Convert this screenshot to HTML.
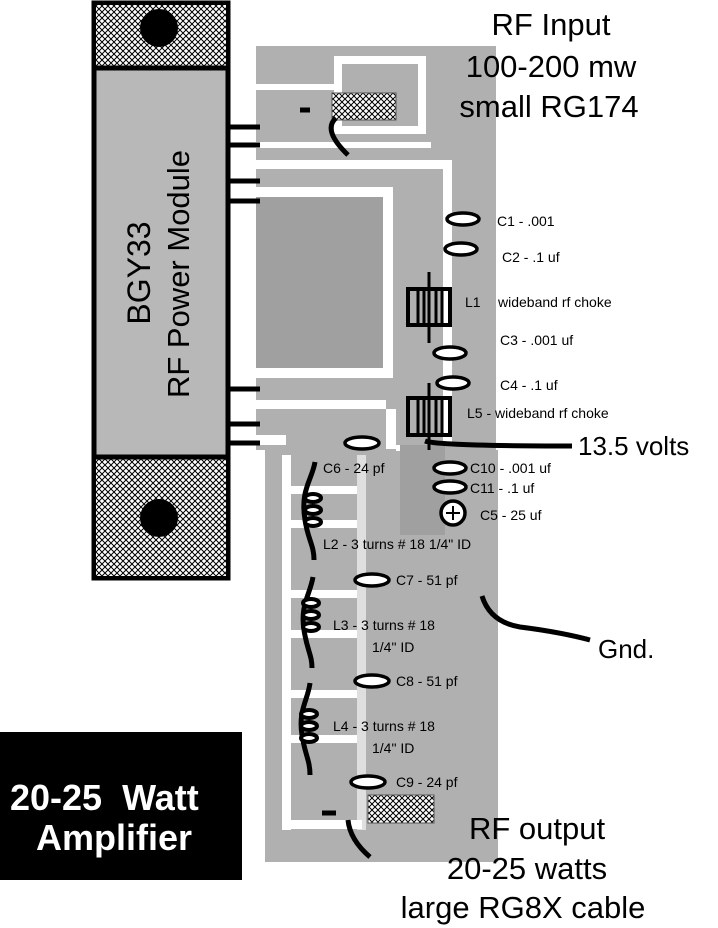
<!DOCTYPE html>
<html><head><style>
html,body{margin:0;padding:0;background:#fff;}
svg{display:block;}
text{font-family:"Liberation Sans",sans-serif;fill:#000;}
</style></head><body>
<svg width="718" height="928" viewBox="0 0 718 928" xmlns="http://www.w3.org/2000/svg">
<defs>
<pattern id="hx" width="6" height="6" patternUnits="userSpaceOnUse">
<rect width="6" height="6" fill="#fff"/>
<path d="M0 0L6 6M6 0L0 6" stroke="#000" stroke-width="1"/>
</pattern>
</defs>
<!-- board -->
<rect x="256" y="46" width="240" height="120" fill="#b0b0b0"/>
<rect x="256" y="166" width="240" height="290" fill="#b0b0b0"/>
<rect x="265" y="450" width="233" height="412" fill="#b0b0b0"/>
<!-- top board traces -->
<rect x="338" y="60" width="84" height="70" fill="none" stroke="#fff" stroke-width="8"/>
<rect x="256" y="84" width="80" height="6" fill="#fff"/>
<rect x="256" y="142" width="175" height="6" fill="#fff"/>
<rect x="332" y="93" width="64" height="27" fill="url(#hx)" stroke="#555" stroke-width="1"/>
<!-- main section -->
<rect x="256" y="160" width="196" height="9" fill="#fff"/>
<rect x="256" y="187" width="137" height="10" fill="#fff"/>
<rect x="256" y="197" width="127" height="171" fill="#a0a0a0"/>
<rect x="383" y="187" width="10" height="191" fill="#fff"/>
<rect x="256" y="368" width="137" height="10" fill="#fff"/>
<rect x="256" y="400" width="130" height="9" fill="#fff"/>
<rect x="443" y="166" width="9" height="280" fill="#fff"/>
<rect x="386" y="409" width="10" height="40" fill="#fff"/>
<rect x="256" y="435" width="30" height="10" fill="#fff"/>
<rect x="396" y="445" width="47" height="6" fill="#fff"/>
<!-- lower section -->
<rect x="256" y="450" width="9" height="412" fill="#fff"/>
<rect x="282" y="455" width="9" height="375" fill="#fff"/>
<rect x="282" y="820" width="80" height="9" fill="#fff"/>
<rect x="291" y="486" width="66" height="8" fill="#fff"/>
<rect x="291" y="520" width="66" height="8" fill="#fff"/>
<rect x="291" y="590" width="66" height="8" fill="#fff"/>
<rect x="291" y="630" width="66" height="8" fill="#fff"/>
<rect x="291" y="690" width="66" height="8" fill="#fff"/>
<rect x="291" y="735" width="66" height="8" fill="#fff"/>
<rect x="357" y="455" width="9" height="375" fill="#fff" opacity="0.6"/>
<rect x="400" y="445" width="45" height="90" fill="#a0a0a0"/>
<rect x="368" y="795" width="66" height="28" fill="url(#hx)" stroke="#555" stroke-width="1"/>
<!-- module -->
<rect x="94" y="3" width="134" height="575" fill="#b8b8b8" stroke="#000" stroke-width="5"/>
<rect x="96" y="5" width="130" height="62" fill="url(#hx)"/>
<rect x="96" y="458" width="130" height="118" fill="url(#hx)"/>
<line x1="94" y1="68" x2="228" y2="68" stroke="#000" stroke-width="5"/>
<line x1="94" y1="457" x2="228" y2="457" stroke="#000" stroke-width="5"/>
<circle cx="159" cy="28" r="19" fill="#000"/>
<circle cx="159" cy="518" r="19" fill="#000"/>
<g stroke="#000" stroke-width="5">
<line x1="226" y1="127" x2="260" y2="127"/><line x1="226" y1="145" x2="260" y2="145"/>
<line x1="226" y1="181" x2="260" y2="181"/><line x1="226" y1="201" x2="260" y2="201"/>
<line x1="226" y1="389" x2="260" y2="389"/><line x1="226" y1="424" x2="260" y2="424"/>
<line x1="226" y1="443" x2="260" y2="443"/>
</g>
<text transform="translate(150,273) rotate(-90)" font-size="32" text-anchor="middle">BGY33</text>
<text transform="translate(189,274) rotate(-90)" font-size="31" text-anchor="middle">RF Power Module</text>
<!-- input coax -->
<path d="M310 110 L300 110 M336 118 Q322 130 348 155" stroke="#000" stroke-width="5" fill="none"/>
<!-- caps -->
<g fill="#fff" stroke="#000" stroke-width="3.5">
<ellipse cx="463" cy="219" rx="16" ry="6"/>
<ellipse cx="461" cy="249" rx="16" ry="6"/>
<ellipse cx="450" cy="353" rx="16" ry="6"/>
<ellipse cx="453" cy="383" rx="16" ry="6"/>
<ellipse cx="362" cy="443" rx="17" ry="6"/>
<ellipse cx="450" cy="468" rx="16" ry="6"/>
<ellipse cx="450" cy="487" rx="16" ry="6"/>
<circle cx="453" cy="513" r="12"/>
<ellipse cx="372" cy="580" rx="17" ry="6"/>
<ellipse cx="372" cy="681" rx="17" ry="6"/>
<ellipse cx="368" cy="782" rx="17" ry="6"/>
</g>
<path d="M446 513h14M453 506v14" stroke="#000" stroke-width="2"/>
<!-- chokes -->
<g stroke="#000" fill="none">
<line x1="429" y1="272" x2="429" y2="343" stroke-width="3"/>
<rect x="408" y="289" width="42" height="36" stroke-width="4"/>
<path d="M418 289v36M424 289v36M436 289v36M442 289v36" stroke-width="3"/>
<line x1="429" y1="383" x2="429" y2="450" stroke-width="3"/>
<rect x="408" y="398" width="42" height="37" stroke-width="4"/>
<path d="M418 398v37M424 398v37M436 398v37M442 398v37" stroke-width="3"/>
<path d="M425 441 Q440 446 572 446" stroke-width="5"/>
<path d="M315 462 C312 480 300 490 305 520 C308 540 314 545 314 560" stroke-width="5"/>
<path d="M313 577 C310 595 300 605 304 630 C307 650 312 655 312 668" stroke-width="5"/>
<path d="M310 683 C308 700 298 710 302 735 C305 755 310 760 310 775" stroke-width="5"/>
</g>
<g fill="#fff" stroke="#000" stroke-width="4">
<ellipse cx="313" cy="498" rx="8" ry="4"/><ellipse cx="313" cy="510" rx="8" ry="4"/><ellipse cx="313" cy="522" rx="8" ry="4"/>
<ellipse cx="311" cy="603" rx="8" ry="4"/><ellipse cx="311" cy="615" rx="8" ry="4"/><ellipse cx="311" cy="627" rx="8" ry="4"/>
<ellipse cx="309" cy="714" rx="8" ry="4"/><ellipse cx="309" cy="726" rx="8" ry="4"/><ellipse cx="309" cy="738" rx="8" ry="4"/>
</g>
<!-- gnd & output wires -->
<path d="M482 596 Q490 622 520 627 Q560 632 590 640" stroke="#000" stroke-width="5" fill="none"/>
<path d="M348 820 Q350 840 370 857" stroke="#000" stroke-width="5" fill="none"/>
<path d="M322 813 L336 813" stroke="#000" stroke-width="5"/>
<!-- bottom-left label -->
<rect x="0" y="732" width="242" height="148" fill="#000"/>
<text x="10" y="810" font-size="36" font-weight="bold" xml:space="preserve" style="fill:#fff">20-25  Watt</text>
<text x="114" y="850" font-size="36" font-weight="bold" text-anchor="middle" style="fill:#fff">Amplifier</text>
<!-- labels -->
<g font-size="31">
<text x="551" y="35" text-anchor="middle">RF Input</text>
<text x="551" y="77" text-anchor="middle">100-200 mw</text>
<text x="549" y="117" text-anchor="middle">small RG174</text>
<text x="537" y="839" text-anchor="middle">RF output</text>
<text x="527" y="879" text-anchor="middle">20-25 watts</text>
<text x="523" y="918" text-anchor="middle">large RG8X cable</text>
</g>
<g font-size="26">
<text x="578" y="455">13.5 volts</text>
<text x="598" y="658">Gnd.</text>
</g>
<g font-size="14">
<text x="497" y="226">C1 - .001</text>
<text x="502" y="262">C2 - .1 uf</text>
<text x="465" y="307">L1</text>
<text x="498" y="307">wideband rf choke</text>
<text x="500" y="345">C3 - .001 uf</text>
<text x="500" y="390">C4 - .1 uf</text>
<text x="467" y="418">L5 - wideband rf choke</text>
<text x="470" y="473">C10 - .001 uf</text>
<text x="470" y="493">C11 - .1 uf</text>
<text x="480" y="520">C5 - 25 uf</text>
<text x="323" y="473">C6 - 24 pf</text>
<text x="323" y="549">L2 - 3 turns # 18 1/4" ID</text>
<text x="396" y="585">C7 - 51 pf</text>
<text x="333" y="630">L3 - 3 turns # 18</text>
<text x="372" y="652">1/4" ID</text>
<text x="396" y="686">C8 - 51 pf</text>
<text x="333" y="731">L4 - 3 turns # 18</text>
<text x="372" y="753">1/4" ID</text>
<text x="396" y="787">C9 - 24 pf</text>
</g>
</svg>
</body></html>
